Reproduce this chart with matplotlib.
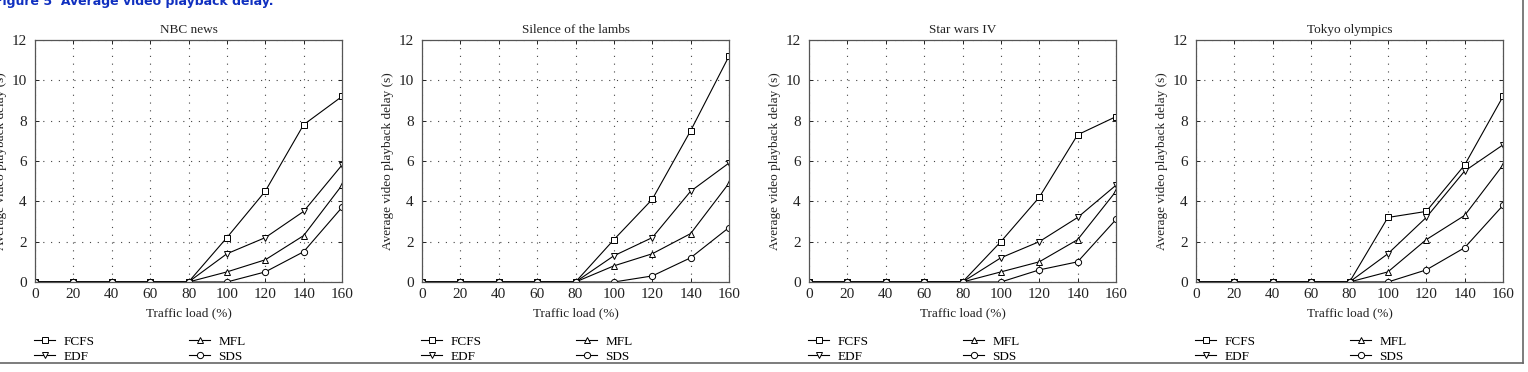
import numpy as np
import matplotlib
matplotlib.use("Agg")
import matplotlib.pyplot as plt
from matplotlib.lines import Line2D

plt.rcParams['font.family'] = ['Liberation Serif', 'DejaVu Serif']

# traffic load (%)
load = [0, 20, 40, 60, 80, 100, 120, 140, 160]

titles = ["NBC news", "Silence of the lambs", "Star wars IV", "Tokyo olympics"]

# average video playback delay (s) per scheduler
fcfs = [[0, 0, 0, 0, 0, 2.2, 4.5, 7.8, 9.2],
        [0, 0, 0, 0, 0, 2.1, 4.1, 7.5, 11.2],
        [0, 0, 0, 0, 0, 2.0, 4.2, 7.3, 8.2],
        [0, 0, 0, 0, 0, 3.2, 3.5, 5.8, 9.2]]
edf = [[0, 0, 0, 0, 0, 1.4, 2.2, 3.5, 5.8],
       [0, 0, 0, 0, 0, 1.3, 2.2, 4.5, 5.9],
       [0, 0, 0, 0, 0, 1.2, 2.0, 3.2, 4.8],
       [0, 0, 0, 0, 0, 1.4, 3.2, 5.5, 6.8]]
mfl = [[0, 0, 0, 0, 0, 0.5, 1.1, 2.3, 4.8],
       [0, 0, 0, 0, 0, 0.8, 1.4, 2.4, 4.9],
       [0, 0, 0, 0, 0, 0.5, 1.0, 2.1, 4.5],
       [0, 0, 0, 0, 0, 0.5, 2.1, 3.3, 5.8]]
sds = [[0, 0, 0, 0, 0, 0, 0.5, 1.5, 3.7],
       [0, 0, 0, 0, 0, 0, 0.3, 1.2, 2.7],
       [0, 0, 0, 0, 0, 0, 0.6, 1.0, 3.1],
       [0, 0, 0, 0, 0, 0, 0.6, 1.7, 3.8]]

W, H = 1528, 372
fig = plt.figure(figsize=(W/100, H/100), dpi=100)

lefts = [35, 422, 809, 1196]
aw = 307
top, bot = 40, 282

for k in range(4):
    ax = fig.add_axes([lefts[k]/W, 1 - bot/H, aw/W, (bot - top)/H])
    style = dict(color='black', lw=0.8, mfc='white', mec='black', mew=0.7, ms=4.5)
    ax.plot(load, fcfs[k], marker='s', label='FCFS', **style)
    ax.plot(load, edf[k], marker='v', label='EDF', **style)
    ax.plot(load, mfl[k], marker='^', label='MFL', **style)
    ax.plot(load, sds[k], marker='o', label='SDS', **style)
    ax.set_xlim(0, 160)
    ax.set_ylim(0, 12)
    ax.set_xticks(range(0, 161, 20))
    ax.set_yticks(range(0, 13, 2))
    ax.grid(True, ls=(0, (1, 6)), color='#444444', lw=0.8)
    ax.tick_params(direction='in', top=True, right=True, length=3, width=0.7,
                   labelsize=11, colors='#222222')
    ax.tick_params(axis='x', pad=4)
    ax.tick_params(axis='y', pad=6)
    for s in ax.spines.values():
        s.set_color('#555555')
        s.set_linewidth(0.9)
    ax.set_title(titles[k], fontsize=9.5, pad=5, color='#222222')
    ax.set_xlabel('Traffic load (%)', fontsize=9.5, labelpad=5, color='#222222')
    ax.set_ylabel('Average video playback delay (s)', fontsize=9.5, labelpad=3, color='#222222')
    h, l = ax.get_legend_handles_labels()
    ax.legend(h, l, ncol=2, loc='upper left', bbox_to_anchor=(-0.02, -0.2),
              frameon=False, fontsize=9.5, handlelength=1.6, handletextpad=0.6,
              columnspacing=7.2, labelspacing=0.2, borderaxespad=0)

fig.text(-0.004, 1 - 1/H, 'Figure 5  Average video playback delay.', color='#1030c0',
         fontsize=9, fontweight='bold', family='DejaVu Sans', va='center', ha='left')

fig.add_artist(Line2D([0, 1523/W], [1 - 363/H, 1 - 363/H], color='#666666', lw=1.2))
fig.add_artist(Line2D([1523/W, 1523/W], [1 - 363/H, 1], color='#666666', lw=1.2))

fig.savefig('out.png', dpi=100)
